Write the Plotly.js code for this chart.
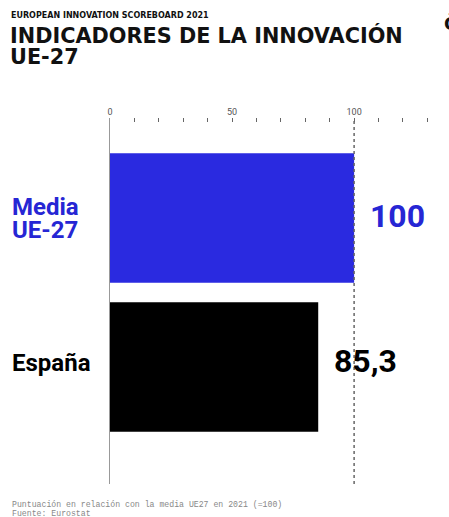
<!DOCTYPE html>
<html>
<head>
<meta charset="utf-8">
<script src="https://cdn.plot.ly/plotly-3.0.1.min.js"></script>
<style>html,body{margin:0;padding:0;background:#fff;}#chart{width:449px;height:517px;}</style>
</head>
<body>
<div id="chart"></div>
<script>
const categories = [['Media', 'UE-27'], ['España']];
const values = [100, 85.3];
const valueLabels = ['100', '85,3'];
const tickVals = [0, 10, 20, 30, 40, 50, 60, 70, 80, 90, 100, 110, 120, 130];
const tickText = ['0', '', '', '', '', '50', '', '', '', '', '100', '', '', ''];
const referenceValue = 100;

const BLUE = '#2a2ae0';
const BLUE_TXT = '#2626d4';
const colors = [BLUE, '#000000'];
const textColors = [BLUE_TXT, '#000000'];

const plotL = 110, plotR = 18, plotT = 118, plotB = 33, W = 449, H = 517;
const plotW = W - plotL - plotR, plotH = H - plotT - plotB;
const px = p => (p - plotL) / plotW;
const py = p => (H - plotB - p) / plotH;

const trace = {
  type: 'bar',
  orientation: 'h',
  x: values,
  y: [0, 1],
  width: 0.87,
  marker: { color: colors, line: { width: 0 } },
  hoverinfo: 'none'
};

const annotations = [];
categories.forEach((lines, i) => {
  const n = lines.length;
  lines.forEach((line, k) => {
    const shift = n === 1 ? 4 : (k === 0 ? 11 : -12);
    annotations.push({
      xref: 'paper', yref: 'y', x: px(10), y: i, xanchor: 'left', yanchor: 'middle',
      text: '<b>' + line + '</b>', showarrow: false, align: 'left',
      font: { family: 'Roboto', size: 24, color: textColors[i] }, yshift: shift
    });
  });
  annotations.push({
    xref: 'x', yref: 'y', x: values[i], y: i, xanchor: 'left', yanchor: 'middle',
    text: '<b>' + valueLabels[i] + '</b>', showarrow: false, xshift: 14, yshift: i === 1 ? 6 : 2,
    font: { family: 'Roboto', size: 32, color: textColors[i] }
  });
});
annotations.push(
  { xref: 'paper', yref: 'paper', x: px(9), y: py(16), xanchor: 'left', yanchor: 'middle', showarrow: false,
    text: '<b>EUROPEAN INNOVATION SCOREBOARD 2021</b>', font: { family: 'DejaVu Sans', size: 8, color: '#111' } },
  { xref: 'paper', yref: 'paper', x: px(8), y: py(35), xanchor: 'left', yanchor: 'middle', showarrow: false,
    text: '<b>INDICADORES DE LA INNOVACIÓN</b>', font: { family: 'DejaVu Sans', size: 20.8, color: '#111' } },
  { xref: 'paper', yref: 'paper', x: px(8), y: py(57), xanchor: 'left', yanchor: 'middle', showarrow: false,
    text: '<b>UE-27</b>', font: { family: 'DejaVu Sans', size: 20.8, color: '#111' } },
  { xref: 'paper', yref: 'paper', x: px(442), y: py(24), xanchor: 'left', yanchor: 'middle', showarrow: false,
    text: '<b>Ō</b>', font: { family: 'DejaVu Sans', size: 18, color: '#111' } },
  { xref: 'paper', yref: 'paper', x: px(10), y: py(504), xanchor: 'left', yanchor: 'middle', showarrow: false,
    text: 'Puntuación en relación con la media UE27 en 2021 (=100)', font: { family: 'Liberation Mono', size: 8.2, color: '#888' } },
  { xref: 'paper', yref: 'paper', x: px(10), y: py(513), xanchor: 'left', yanchor: 'middle', showarrow: false,
    text: 'Fuente: Eurostat', font: { family: 'Liberation Mono', size: 8.2, color: '#888' } }
);

const layout = {
  width: W, height: H,
  margin: { l: plotL, r: plotR, t: plotT, b: plotB, pad: 0 },
  paper_bgcolor: '#fff', plot_bgcolor: '#fff',
  showlegend: false,
  xaxis: {
    side: 'top', range: [0, 131.5], tickmode: 'array', tickvals: tickVals, ticktext: tickText,
    ticks: 'inside', ticklen: 4, tickwidth: 1, tickcolor: '#666',
    showgrid: false, zeroline: false, showline: false,
    tickfont: { family: 'Roboto', size: 9, color: '#555' }, fixedrange: true
  },
  yaxis: {
    range: [1.785, -0.671], showticklabels: false, ticks: '', showgrid: false, zeroline: false,
    showline: true, linecolor: '#999', linewidth: 1.5, fixedrange: true
  },
  shapes: [
    { type: 'line', xref: 'x', yref: 'paper', x0: referenceValue, x1: referenceValue, y0: 0, y1: 1,
      line: { color: '#666', width: 1.5, dash: '3px,3px' }, layer: 'above' }
  ],
  annotations: annotations
};

Plotly.newPlot('chart', [trace], layout, { displayModeBar: false, staticPlot: true });
</script>
</body>
</html>
